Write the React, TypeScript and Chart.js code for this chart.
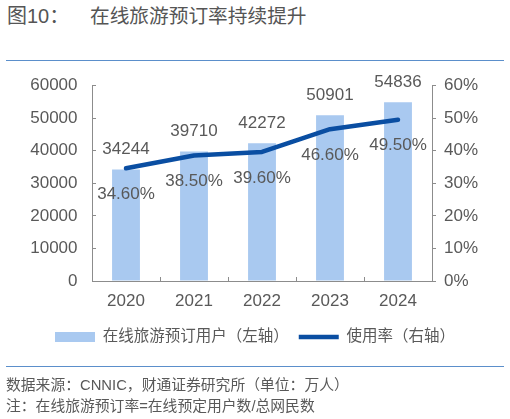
import React, { useEffect, useRef } from "react";
import { Chart, registerables } from "chart.js";

Chart.register(...registerables);

const categories = ["2020", "2021", "2022", "2023", "2024"];
const users = [34244, 39710, 42272, 50901, 54836];
const rates = [34.6, 38.5, 39.6, 46.6, 49.5];
const barLabel = "在线旅游预订用户（左轴）";
const lineLabel = "使用率（右轴）";
const titleLeft = "图10：";
const titleRight = "在线旅游预订率持续提升";
const source1 = "数据来源：CNNIC，财通证券研究所（单位：万人）";
const source2 = "注：在线旅游预订率=在线预定用户数/总网民数";

const TEXT = "#595959";
const AXIS = "#8c8c8c";
const BAR = "#a9c9f0";
const LINE = "#0a4ea2";
const FONT = '"Liberation Sans", "Noto Sans CJK SC", Arial, sans-serif';

const labelPlugin = {
  id: "valueLabels",
  afterDatasetsDraw(chart: any) {
    const ctx = chart.ctx;
    ctx.save();
    ctx.font = `17px ${FONT}`;
    ctx.fillStyle = TEXT;
    ctx.textAlign = "center";
    ctx.textBaseline = "middle";
    chart.data.datasets.forEach((ds: any, di: number) => {
      const meta = chart.getDatasetMeta(di);
      meta.data.forEach((el: any, i: number) => {
        const v = ds.data[i];
        if (ds.type === "bar") {
          ctx.fillText(String(v), el.x, el.y - 20);
        } else {
          ctx.fillText(v.toFixed(2) + "%", el.x, el.y + 26);
        }
      });
    });
    ctx.restore();
  },
};

export default function App() {
  const ref = useRef<HTMLCanvasElement>(null);
  useEffect(() => {
    if (!ref.current) return;
    const chart = new Chart(ref.current, {
      type: "bar",
      data: {
        labels: categories,
        datasets: [
          {
            type: "bar",
            label: barLabel,
            data: users,
            backgroundColor: BAR,
            borderWidth: 0,
            yAxisID: "y",
            order: 1,
            barPercentage: 0.82,
            categoryPercentage: 0.5,
            pointStyle: "rect",
          } as any,
          {
            type: "line",
            label: lineLabel,
            data: rates,
            borderColor: LINE,
            backgroundColor: LINE,
            borderWidth: 4.5,
            borderCapStyle: "round",
            borderJoinStyle: "round",
            pointRadius: 0,
            tension: 0,
            yAxisID: "y1",
            order: 0,
            pointStyle: "line",
          } as any,
        ],
      },
      options: {
        animation: false,
        responsive: false,
        maintainAspectRatio: false,
        layout: { padding: { top: 85.5, left: 0, right: 0, bottom: 64.25 } },
        plugins: {
          tooltip: { enabled: false },
          legend: {
            position: "bottom",
            labels: {
              usePointStyle: true,
              pointStyleWidth: 40,
              boxHeight: 10,
              padding: 10,
              color: TEXT,
              font: { size: 15.5, family: FONT },
              sort: (a: any, b: any) => a.datasetIndex - b.datasetIndex,
            },
          },
        },
        scales: {
          x: {
            grid: {
              drawOnChartArea: false,
              drawTicks: true,
              tickLength: -4,
              color: AXIS,
              offset: true,
            },
            border: { color: AXIS, width: 1 },
            ticks: { color: TEXT, font: { size: 17, family: FONT }, padding: 14 },
            afterFit: (s: any) => {
              s.height = 38.25;
            },
          },
          y: {
            position: "left",
            min: 0,
            max: 60000,
            grid: { drawOnChartArea: false, tickLength: -4, color: AXIS },
            border: { color: AXIS, width: 1 },
            ticks: {
              stepSize: 10000,
              color: TEXT,
              font: { size: 17, family: FONT },
              padding: 18.5,
              callback: (v: any) => String(v),
            },
            afterFit: (s: any) => {
              s.width = 92;
            },
          },
          y1: {
            position: "right",
            min: 0,
            max: 60,
            grid: { drawOnChartArea: false, tickLength: 4, color: AXIS },
            border: { color: AXIS, width: 1 },
            ticks: {
              stepSize: 10,
              color: TEXT,
              font: { size: 17, family: FONT },
              padding: 8,
              callback: (v: any) => v + "%",
            },
            afterFit: (s: any) => {
              s.width = 78;
            },
          },
        },
      } as any,
      plugins: [labelPlugin],
    });
    return () => chart.destroy();
  }, []);

  const textStyle = (left: number, top: number, size: number, lh: number) => ({
    position: "absolute" as const,
    left,
    top,
    fontFamily: FONT,
    fontSize: size,
    lineHeight: `${lh}px`,
    color: TEXT,
    fontWeight: 400,
    whiteSpace: "nowrap" as const,
  });

  return (
    <div
      style={{
        position: "absolute",
        left: 0,
        top: 0,
        width: 510,
        height: 419,
        background: "#ffffff",
        overflow: "hidden",
      }}
    >
      <div style={{ ...textStyle(7, 6, 20, 20), color: "#555555" }}>{titleLeft}</div>
      <div style={{ ...textStyle(90, 6, 19.7, 20), color: "#555555" }}>{titleRight}</div>
      <div
        style={{
          position: "absolute",
          left: 6,
          top: 60,
          width: 498,
          height: 0,
          borderTop: "1.5px solid #5b8fcb",
        }}
      />
      <canvas
        ref={ref}
        width={510}
        height={419}
        style={{ position: "absolute", left: 0, top: 0, width: 510, height: 419 }}
      />
      <div
        style={{
          position: "absolute",
          left: 6,
          top: 365.5,
          width: 498,
          height: 0,
          borderTop: "1.5px solid #5b8fcb",
        }}
      />
      <div style={textStyle(6, 377, 14.8, 16)}>{source1}</div>
      <div style={textStyle(6, 398, 14.8, 16)}>{source2}</div>
    </div>
  );
}
